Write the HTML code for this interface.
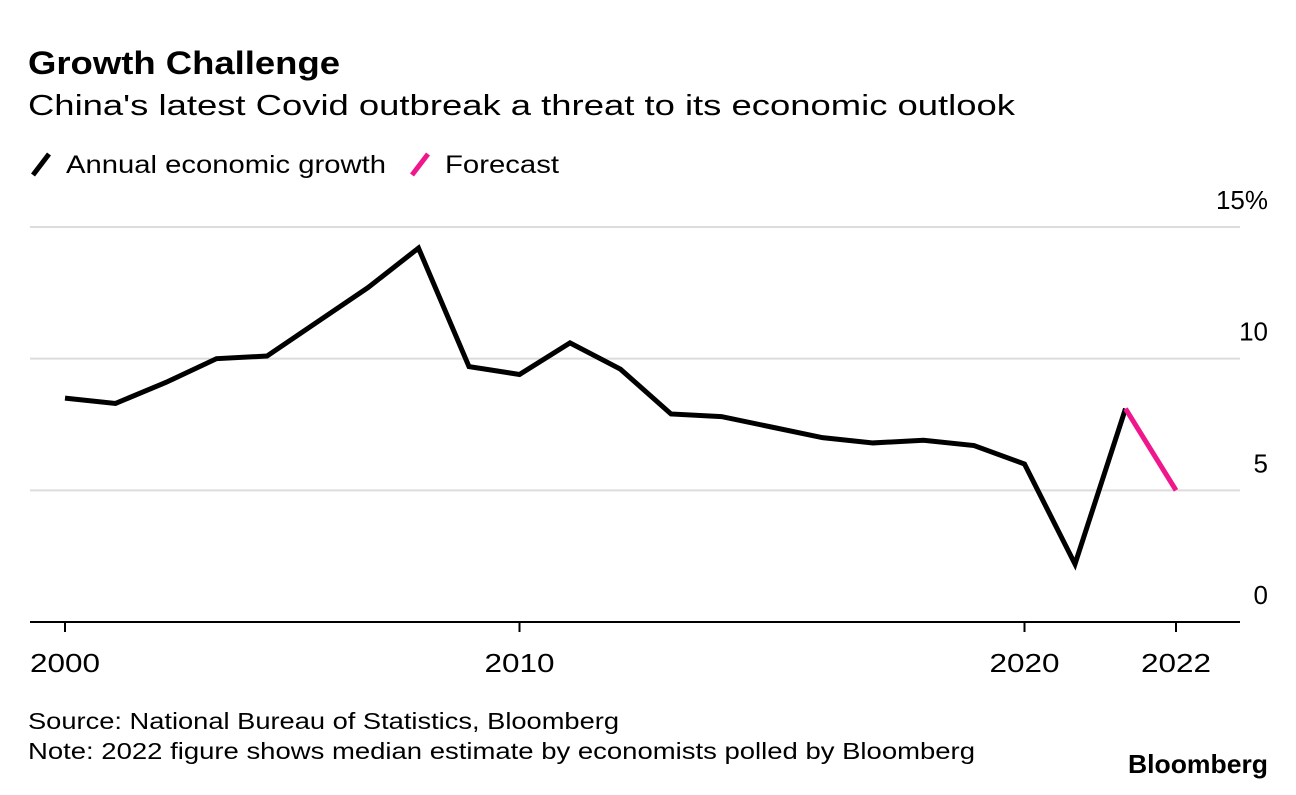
<!DOCTYPE html>
<html><head><meta charset="utf-8"><style>
body{margin:0;background:#fff;width:1296px;height:790px;overflow:hidden;font-family:"Liberation Sans",Arial,sans-serif;color:#000}
</style></head><body>
<svg width="1296" height="790" viewBox="0 0 1296 790" xmlns="http://www.w3.org/2000/svg" font-family="Liberation Sans, Arial, sans-serif">
<text x="28" y="74" font-size="32" font-weight="bold" textLength="312" lengthAdjust="spacingAndGlyphs">Growth Challenge</text>
<text x="28" y="115" font-size="29" textLength="987" lengthAdjust="spacingAndGlyphs">China's latest Covid outbreak a threat to its economic outlook</text>
<g>
<line x1="33" y1="175" x2="49" y2="154" stroke="#000" stroke-width="5"/>
<text x="66" y="173" font-size="25" textLength="320" lengthAdjust="spacingAndGlyphs">Annual economic growth</text>
<line x1="412" y1="175" x2="428" y2="154" stroke="#f0168c" stroke-width="5"/>
<text x="445" y="173" font-size="25" textLength="114" lengthAdjust="spacingAndGlyphs">Forecast</text>
</g>
<g id="grid"></g><g id="axes"></g><g id="series"></g>
<text x="28" y="729" font-size="23" textLength="591" lengthAdjust="spacingAndGlyphs">Source: National Bureau of Statistics, Bloomberg</text>
<text x="28" y="759" font-size="23" textLength="947" lengthAdjust="spacingAndGlyphs">Note: 2022 figure shows median estimate by economists polled by Bloomberg</text>
<text x="1128" y="773" font-size="26" font-weight="bold" textLength="140" lengthAdjust="spacingAndGlyphs">Bloomberg</text>
</svg>
<script>
const years=[2000,2001,2002,2003,2004,2005,2006,2007,2008,2009,2010,2011,2012,2013,2014,2015,2016,2017,2018,2019,2020,2021];
const growth=[8.5,8.3,9.1,10.0,10.1,11.4,12.7,14.2,9.7,9.4,10.6,9.6,7.9,7.8,7.4,7.0,6.8,6.9,6.7,6.0,2.2,8.1];
const forecastYears=[2021,2022];
const forecast=[8.1,5.0];
const yTicks=[0,5,10,15];
const yTickLabels=["0","5","10","15%"];
const xTicks=[2000,2009,2019,2022];
const xTickLabels=["2000","2010","2020","2022"];
const NS="http://www.w3.org/2000/svg";
const xs=y=>65+(y-2000)*(1176-65)/22;
const ys=v=>622-v*(622-227)/15;
function mk(tag,attrs,parent,text){const e=document.createElementNS(NS,tag);for(const k in attrs)e.setAttribute(k,attrs[k]);if(text!==undefined)e.textContent=text;document.getElementById(parent).appendChild(e);return e;}
yTicks.forEach((t,i)=>{
  if(t>0){const g=mk('line',{x1:30,x2:1240,y1:ys(t),y2:ys(t),stroke:'#dcdcdc','stroke-width':2},'grid');
  
  }
  const l=mk('text',{x:1268,y:ys(t)-18,'font-size':26,'text-anchor':'end'},'grid',yTickLabels[i]);
  
  
});
const base=mk('line',{x1:30,x2:1240,y1:622,y2:622,stroke:'#000','stroke-width':2},'axes');


xTicks.forEach((t,i)=>{
  const tk=mk('line',{x1:xs(t),x2:xs(t),y1:622,y2:632,stroke:'#000','stroke-width':2},'axes');
  
  
  const l=mk('text',{x:xs(t),y:672,'font-size':26,'text-anchor':'middle',textLength:70,lengthAdjust:'spacingAndGlyphs'},'axes',xTickLabels[i]);
  
  
});
const p1=mk('polyline',{points:years.map((y,i)=>xs(y)+','+ys(growth[i])).join(' '),fill:'none',stroke:'#000','stroke-width':5,'stroke-linejoin':'miter'},'series');


const p2=mk('polyline',{points:forecastYears.map((y,i)=>xs(y)+','+ys(forecast[i])).join(' '),fill:'none',stroke:'#f0168c','stroke-width':5},'series');


</script>
</body></html>
